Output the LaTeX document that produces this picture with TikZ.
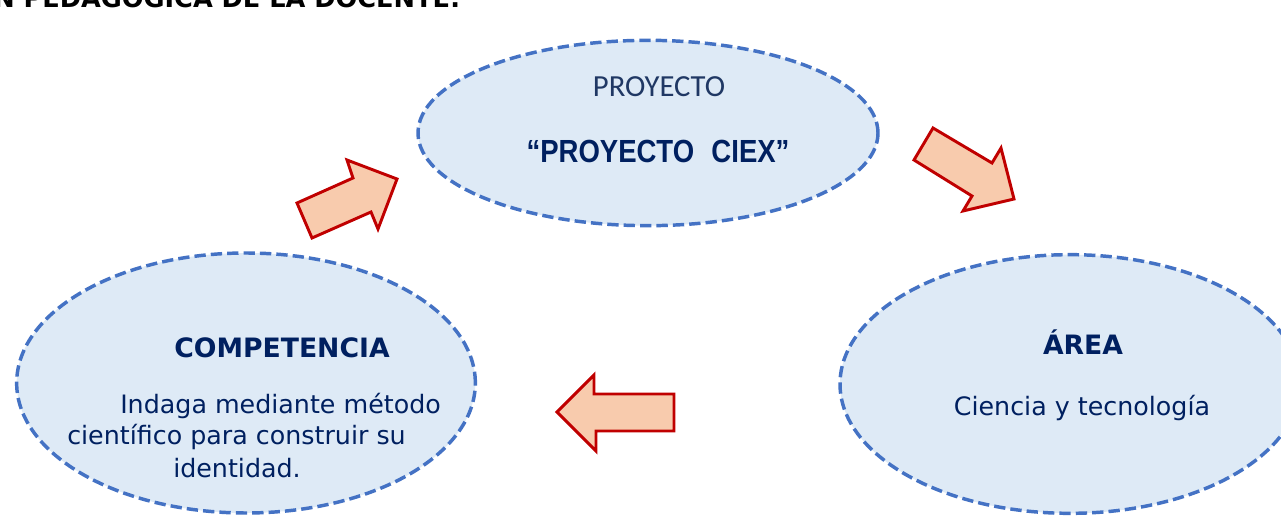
\documentclass[tikz,border=0pt]{standalone}
\usepackage{fontspec}
\usepackage{graphicx}
\setmainfont{DejaVu Sans}
\newfontfamily\calibrifont{Carlito}
\newfontfamily\arialfont{Liberation Sans}
\usetikzlibrary{shapes.geometric, positioning}

\definecolor{ovalfill}{HTML}{DEEAF6}
\definecolor{ovalline}{HTML}{4472C4}
\definecolor{navy}{HTML}{002060}
\definecolor{slate}{HTML}{203864}
\definecolor{peach}{HTML}{F8CBAD}
\definecolor{arrowred}{HTML}{C00000}

\tikzset{
  oval/.style={ellipse, draw=ovalline, fill=ovalfill, line width=2.6pt, dash pattern=on 8.5pt off 3.8pt, inner sep=0pt},
  bigarrow/.style={draw=arrowred, fill=peach, line width=2.2pt, line join=miter},
  txt/.style={text=navy, anchor=base, inner sep=0pt},
}

\begin{document}
\begin{tikzpicture}[x=0.75pt, y=-0.75pt]
  \useasboundingbox (0,0) rectangle (1281,516);
  \clip (0,0) rectangle (1281,516);

  % Header (cut off at the top)
  \node[anchor=base west, inner sep=0pt, font=\fontsize{19.2}{21}\selectfont\bfseries] (header) at (-7,8) {N PEDAGÓGICA DE LA DOCENTE:};

  % Project
  \node[oval, minimum width=345pt, minimum height=139pt] (proyecto) at (648,133) {};
  \node[txt, text=slate, font=\calibrifont\fontsize{23}{26}\selectfont] (proytitle) at (659,97) {PROYECTO};
  \node[txt, font=\arialfont\bfseries\fontsize{24}{26}\selectfont] (proyname) at (658,163) {\scalebox{0.86}[1]{“PROYECTO\hspace{0.35em} CIEX”}};

  % Competence
  \node[oval, minimum width=344pt, minimum height=195pt] (competencia) at (246,383) {};
  \node[txt, font=\fontsize{20}{24}\selectfont\bfseries] (comptitle) at (282,358) {COMPETENCIA};
  \node[txt, anchor=base west, font=\fontsize{19}{24}\selectfont] (compline1) at (120,413) {Indaga mediante método};
  \node[txt, anchor=base west, font=\fontsize{19}{24}\selectfont] (compline2) at (67,444) {científico para construir su};
  \node[txt, anchor=base west, font=\fontsize{19}{24}\selectfont] (compline3) at (173,477) {identidad.};

  % Area
  \node[oval, minimum width=345pt, minimum height=194pt] (area) at (1070,384) {};
  \node[txt, font=\fontsize{20}{24}\selectfont\bfseries] (areatitle) at (1083,355) {ÁREA};
  \node[txt, font=\fontsize{19}{24}\selectfont] (areaname) at (1082,416) {Ciencia y tecnología};

  % Block arrows
  \draw[bigarrow] (297,203) -- (353,178) -- (347,160) -- (397,179) -- (378,229) -- (371,212) -- (312,238) -- cycle;
  \draw[bigarrow] (914,160) -- (933,128) -- (992,163) -- (1001,148) -- (1014,199) -- (963,211) -- (972,196) -- cycle;
  \draw[bigarrow] (557,412) -- (594,375) -- (594,394) -- (674,394) -- (674,431) -- (596,431) -- (596,451) -- cycle;
\end{tikzpicture}
\end{document}
